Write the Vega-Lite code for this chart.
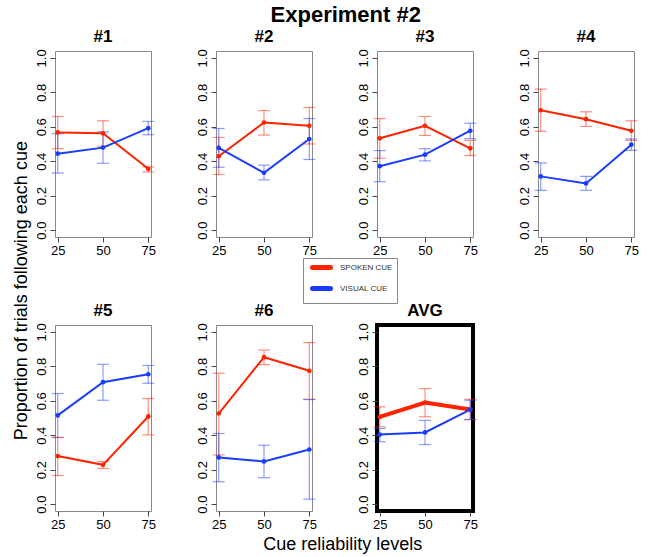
{
  "$schema": "https://vega.github.io/schema/vega-lite/v6.json",
  "padding": {"left": 12, "top": 4, "right": 5, "bottom": 5},
  "background": "white",
  "title": {"text": "Experiment #2", "fontSize": 22, "fontWeight": "bold", "anchor": "middle", "dx": 20, "offset": 0},
  "config": {
    "font": "Liberation Sans",
    "view": {"stroke": "#888", "strokeWidth": 1},
    "axis": {"domain": false, "grid": false, "ticks": true, "tickSize": 5, "tickColor": "#444", "labelFontSize": 13, "labelColor": "black", "labelFont": "Liberation Sans", "labelPadding": 2, "labelFlush": false, "labelOverlap": false, "labelBound": false},
    "axisY": {"values": [0, 0.2, 0.4, 0.6, 0.8, 1], "format": ".1f", "labelAngle": 270, "labelAlign": "center", "labelBaseline": "bottom", "labelOverlap": false},
    "axisX": {"values": [25, 50, 75], "labelAngle": 0, "labelOverlap": false},
    "title": {"fontSize": 17, "fontWeight": "bold", "font": "Liberation Sans", "offset": 3, "color": "black", "anchor": "middle"}
  },
  "datasets": {
    "d": [
      {"p": "#1", "cue": "SPOKEN CUE", "lvl": 25, "m": 0.567, "lo": 0.473, "hi": 0.66},
      {"p": "#1", "cue": "SPOKEN CUE", "lvl": 50, "m": 0.562, "lo": 0.487, "hi": 0.635},
      {"p": "#1", "cue": "SPOKEN CUE", "lvl": 75, "m": 0.356, "lo": 0.338, "hi": 0.367},
      {"p": "#1", "cue": "VISUAL CUE", "lvl": 25, "m": 0.444, "lo": 0.331, "hi": 0.56},
      {"p": "#1", "cue": "VISUAL CUE", "lvl": 50, "m": 0.479, "lo": 0.388, "hi": 0.571},
      {"p": "#1", "cue": "VISUAL CUE", "lvl": 75, "m": 0.592, "lo": 0.554, "hi": 0.631},
      {"p": "#2", "cue": "SPOKEN CUE", "lvl": 25, "m": 0.429, "lo": 0.323, "hi": 0.538},
      {"p": "#2", "cue": "SPOKEN CUE", "lvl": 50, "m": 0.625, "lo": 0.552, "hi": 0.694},
      {"p": "#2", "cue": "SPOKEN CUE", "lvl": 75, "m": 0.606, "lo": 0.5, "hi": 0.712},
      {"p": "#2", "cue": "VISUAL CUE", "lvl": 25, "m": 0.477, "lo": 0.365, "hi": 0.59},
      {"p": "#2", "cue": "VISUAL CUE", "lvl": 50, "m": 0.333, "lo": 0.292, "hi": 0.377},
      {"p": "#2", "cue": "VISUAL CUE", "lvl": 75, "m": 0.529, "lo": 0.41, "hi": 0.648},
      {"p": "#3", "cue": "SPOKEN CUE", "lvl": 25, "m": 0.533, "lo": 0.417, "hi": 0.648},
      {"p": "#3", "cue": "SPOKEN CUE", "lvl": 50, "m": 0.606, "lo": 0.55, "hi": 0.66},
      {"p": "#3", "cue": "SPOKEN CUE", "lvl": 75, "m": 0.475, "lo": 0.433, "hi": 0.521},
      {"p": "#3", "cue": "VISUAL CUE", "lvl": 25, "m": 0.371, "lo": 0.281, "hi": 0.462},
      {"p": "#3", "cue": "VISUAL CUE", "lvl": 50, "m": 0.438, "lo": 0.402, "hi": 0.473},
      {"p": "#3", "cue": "VISUAL CUE", "lvl": 75, "m": 0.577, "lo": 0.531, "hi": 0.621},
      {"p": "#4", "cue": "SPOKEN CUE", "lvl": 25, "m": 0.696, "lo": 0.573, "hi": 0.819},
      {"p": "#4", "cue": "SPOKEN CUE", "lvl": 50, "m": 0.644, "lo": 0.602, "hi": 0.687},
      {"p": "#4", "cue": "SPOKEN CUE", "lvl": 75, "m": 0.577, "lo": 0.521, "hi": 0.635},
      {"p": "#4", "cue": "VISUAL CUE", "lvl": 25, "m": 0.312, "lo": 0.231, "hi": 0.39},
      {"p": "#4", "cue": "VISUAL CUE", "lvl": 50, "m": 0.271, "lo": 0.231, "hi": 0.312},
      {"p": "#4", "cue": "VISUAL CUE", "lvl": 75, "m": 0.496, "lo": 0.463, "hi": 0.529},
      {"p": "#5", "cue": "SPOKEN CUE", "lvl": 25, "m": 0.279, "lo": 0.166, "hi": 0.387},
      {"p": "#5", "cue": "SPOKEN CUE", "lvl": 50, "m": 0.228, "lo": 0.207, "hi": 0.248},
      {"p": "#5", "cue": "SPOKEN CUE", "lvl": 75, "m": 0.509, "lo": 0.402, "hi": 0.613},
      {"p": "#5", "cue": "VISUAL CUE", "lvl": 25, "m": 0.515, "lo": 0.387, "hi": 0.642},
      {"p": "#5", "cue": "VISUAL CUE", "lvl": 50, "m": 0.708, "lo": 0.603, "hi": 0.812},
      {"p": "#5", "cue": "VISUAL CUE", "lvl": 75, "m": 0.754, "lo": 0.702, "hi": 0.805},
      {"p": "#6", "cue": "SPOKEN CUE", "lvl": 25, "m": 0.526, "lo": 0.286, "hi": 0.76},
      {"p": "#6", "cue": "SPOKEN CUE", "lvl": 50, "m": 0.853, "lo": 0.81, "hi": 0.894},
      {"p": "#6", "cue": "SPOKEN CUE", "lvl": 75, "m": 0.774, "lo": 0.609, "hi": 0.938},
      {"p": "#6", "cue": "VISUAL CUE", "lvl": 25, "m": 0.271, "lo": 0.13, "hi": 0.41},
      {"p": "#6", "cue": "VISUAL CUE", "lvl": 50, "m": 0.248, "lo": 0.153, "hi": 0.342},
      {"p": "#6", "cue": "VISUAL CUE", "lvl": 75, "m": 0.317, "lo": 0.029, "hi": 0.607},
      {"p": "AVG", "cue": "SPOKEN CUE", "lvl": 25, "m": 0.507, "lo": 0.449, "hi": 0.565},
      {"p": "AVG", "cue": "SPOKEN CUE", "lvl": 50, "m": 0.59, "lo": 0.507, "hi": 0.671},
      {"p": "AVG", "cue": "SPOKEN CUE", "lvl": 75, "m": 0.549, "lo": 0.491, "hi": 0.609},
      {"p": "AVG", "cue": "VISUAL CUE", "lvl": 25, "m": 0.404, "lo": 0.362, "hi": 0.439},
      {"p": "AVG", "cue": "VISUAL CUE", "lvl": 50, "m": 0.416, "lo": 0.346, "hi": 0.486},
      {"p": "AVG", "cue": "VISUAL CUE", "lvl": 75, "m": 0.549, "lo": 0.491, "hi": 0.603}
    ]
  },
  "vconcat": [
    {
      "title": {"text": "Proportion of trials following each cue", "orient": "left", "fontSize": 18, "fontWeight": "normal", "offset": 4, "anchor": "middle"},
      "vconcat": [
        {
          "title": {"text": "Cue reliability levels", "orient": "bottom", "fontSize": 18, "fontWeight": "normal", "offset": 3, "anchor": "middle", "dx": 6},
          "spacing": 41,
          "vconcat": [
            {
              "bounds": "flush",
              "spacing": 65,
              "hconcat": [
                {
                  "width": 96, "height": 186,
                  "title": {"text": "#1"},
                  "data": {"name": "d"},
                  "transform": [{"filter": "datum.p == '#1'"}],
                  "encoding": {
                    "x": {"field": "lvl", "type": "quantitative", "title": null, "scale": {"domain": [23.5, 76.5], "nice": false, "zero": false}, "axis": {"values": [25, 50, 75], "labelAngle": 0}},
                    "color": {"field": "cue", "type": "nominal", "scale": {"domain": ["SPOKEN CUE", "VISUAL CUE"], "range": ["#ff2200", "#1a3cff"]}, "legend": {"title": null, "orient": "none", "legendX": 248, "legendY": 207, "symbolType": "M-3,0H3", "symbolStrokeWidth": 5, "symbolSize": 36, "symbolOffset": 9, "symbolOpacity": 1, "labelFontSize": 8, "labelColor": "#333", "strokeColor": "#888", "padding": 4, "rowPadding": 0, "labelOffset": 13, "fillColor": "white", "encode": {"symbols": {"update": {"strokeCap": {"value": "round"}, "opacity": {"value": 1}}}}}}
                  },
                  "layer": [
                    {"mark": {"type": "rule", "opacity": 0.5, "strokeWidth": 1.2}, "encoding": {"y": {"field": "lo", "type": "quantitative", "title": null, "scale": {"domain": [-0.04, 1.04], "nice": false}}, "y2": {"field": "hi"}}},
                    {"mark": {"type": "tick", "orient": "horizontal", "size": 12, "thickness": 1.2, "opacity": 0.5}, "encoding": {"y": {"field": "lo", "type": "quantitative", "title": null}}},
                    {"mark": {"type": "tick", "orient": "horizontal", "size": 12, "thickness": 1.2, "opacity": 0.5}, "encoding": {"y": {"field": "hi", "type": "quantitative", "title": null}}},
                    {"mark": {"type": "line", "strokeWidth": 2}, "encoding": {"y": {"field": "m", "type": "quantitative", "title": null}}},
                    {"mark": {"type": "point", "filled": true, "size": 22, "opacity": 1}, "encoding": {"y": {"field": "m", "type": "quantitative", "title": null}}}
                  ]
                },
                {
                  "width": 96, "height": 186,
                  "title": {"text": "#2"},
                  "data": {"name": "d"},
                  "transform": [{"filter": "datum.p == '#2'"}],
                  "encoding": {
                    "x": {"field": "lvl", "type": "quantitative", "title": null, "scale": {"domain": [23.5, 76.5], "nice": false, "zero": false}, "axis": {"values": [25, 50, 75], "labelAngle": 0}},
                    "color": {"field": "cue", "type": "nominal", "scale": {"domain": ["SPOKEN CUE", "VISUAL CUE"], "range": ["#ff2200", "#1a3cff"]}}
                  },
                  "layer": [
                    {"mark": {"type": "rule", "opacity": 0.5, "strokeWidth": 1.2}, "encoding": {"y": {"field": "lo", "type": "quantitative", "title": null, "scale": {"domain": [-0.04, 1.04], "nice": false}}, "y2": {"field": "hi"}}},
                    {"mark": {"type": "tick", "orient": "horizontal", "size": 12, "thickness": 1.2, "opacity": 0.5}, "encoding": {"y": {"field": "lo", "type": "quantitative", "title": null}}},
                    {"mark": {"type": "tick", "orient": "horizontal", "size": 12, "thickness": 1.2, "opacity": 0.5}, "encoding": {"y": {"field": "hi", "type": "quantitative", "title": null}}},
                    {"mark": {"type": "line", "strokeWidth": 2}, "encoding": {"y": {"field": "m", "type": "quantitative", "title": null}}},
                    {"mark": {"type": "point", "filled": true, "size": 22, "opacity": 1}, "encoding": {"y": {"field": "m", "type": "quantitative", "title": null}}}
                  ]
                },
                {
                  "width": 96, "height": 186,
                  "title": {"text": "#3"},
                  "data": {"name": "d"},
                  "transform": [{"filter": "datum.p == '#3'"}],
                  "encoding": {
                    "x": {"field": "lvl", "type": "quantitative", "title": null, "scale": {"domain": [23.5, 76.5], "nice": false, "zero": false}, "axis": {"values": [25, 50, 75], "labelAngle": 0}},
                    "color": {"field": "cue", "type": "nominal", "scale": {"domain": ["SPOKEN CUE", "VISUAL CUE"], "range": ["#ff2200", "#1a3cff"]}}
                  },
                  "layer": [
                    {"mark": {"type": "rule", "opacity": 0.5, "strokeWidth": 1.2}, "encoding": {"y": {"field": "lo", "type": "quantitative", "title": null, "scale": {"domain": [-0.04, 1.04], "nice": false}}, "y2": {"field": "hi"}}},
                    {"mark": {"type": "tick", "orient": "horizontal", "size": 12, "thickness": 1.2, "opacity": 0.5}, "encoding": {"y": {"field": "lo", "type": "quantitative", "title": null}}},
                    {"mark": {"type": "tick", "orient": "horizontal", "size": 12, "thickness": 1.2, "opacity": 0.5}, "encoding": {"y": {"field": "hi", "type": "quantitative", "title": null}}},
                    {"mark": {"type": "line", "strokeWidth": 2}, "encoding": {"y": {"field": "m", "type": "quantitative", "title": null}}},
                    {"mark": {"type": "point", "filled": true, "size": 22, "opacity": 1}, "encoding": {"y": {"field": "m", "type": "quantitative", "title": null}}}
                  ]
                },
                {
                  "width": 96, "height": 186,
                  "title": {"text": "#4"},
                  "data": {"name": "d"},
                  "transform": [{"filter": "datum.p == '#4'"}],
                  "encoding": {
                    "x": {"field": "lvl", "type": "quantitative", "title": null, "scale": {"domain": [23.5, 76.5], "nice": false, "zero": false}, "axis": {"values": [25, 50, 75], "labelAngle": 0}},
                    "color": {"field": "cue", "type": "nominal", "scale": {"domain": ["SPOKEN CUE", "VISUAL CUE"], "range": ["#ff2200", "#1a3cff"]}}
                  },
                  "layer": [
                    {"mark": {"type": "rule", "opacity": 0.5, "strokeWidth": 1.2}, "encoding": {"y": {"field": "lo", "type": "quantitative", "title": null, "scale": {"domain": [-0.04, 1.04], "nice": false}}, "y2": {"field": "hi"}}},
                    {"mark": {"type": "tick", "orient": "horizontal", "size": 12, "thickness": 1.2, "opacity": 0.5}, "encoding": {"y": {"field": "lo", "type": "quantitative", "title": null}}},
                    {"mark": {"type": "tick", "orient": "horizontal", "size": 12, "thickness": 1.2, "opacity": 0.5}, "encoding": {"y": {"field": "hi", "type": "quantitative", "title": null}}},
                    {"mark": {"type": "line", "strokeWidth": 2}, "encoding": {"y": {"field": "m", "type": "quantitative", "title": null}}},
                    {"mark": {"type": "point", "filled": true, "size": 22, "opacity": 1}, "encoding": {"y": {"field": "m", "type": "quantitative", "title": null}}}
                  ]
                }
              ]
            },
            {
              "bounds": "flush",
              "spacing": 65,
              "hconcat": [
                {
                  "width": 96, "height": 186,
                  "title": {"text": "#5"},
                  "data": {"name": "d"},
                  "transform": [{"filter": "datum.p == '#5'"}],
                  "encoding": {
                    "x": {"field": "lvl", "type": "quantitative", "title": null, "scale": {"domain": [23.5, 76.5], "nice": false, "zero": false}, "axis": {"values": [25, 50, 75], "labelAngle": 0}},
                    "color": {"field": "cue", "type": "nominal", "scale": {"domain": ["SPOKEN CUE", "VISUAL CUE"], "range": ["#ff2200", "#1a3cff"]}}
                  },
                  "layer": [
                    {"mark": {"type": "rule", "opacity": 0.5, "strokeWidth": 1.2}, "encoding": {"y": {"field": "lo", "type": "quantitative", "title": null, "scale": {"domain": [-0.04, 1.04], "nice": false}}, "y2": {"field": "hi"}}},
                    {"mark": {"type": "tick", "orient": "horizontal", "size": 12, "thickness": 1.2, "opacity": 0.5}, "encoding": {"y": {"field": "lo", "type": "quantitative", "title": null}}},
                    {"mark": {"type": "tick", "orient": "horizontal", "size": 12, "thickness": 1.2, "opacity": 0.5}, "encoding": {"y": {"field": "hi", "type": "quantitative", "title": null}}},
                    {"mark": {"type": "line", "strokeWidth": 2}, "encoding": {"y": {"field": "m", "type": "quantitative", "title": null}}},
                    {"mark": {"type": "point", "filled": true, "size": 22, "opacity": 1}, "encoding": {"y": {"field": "m", "type": "quantitative", "title": null}}}
                  ]
                },
                {
                  "width": 96, "height": 186,
                  "title": {"text": "#6"},
                  "data": {"name": "d"},
                  "transform": [{"filter": "datum.p == '#6'"}],
                  "encoding": {
                    "x": {"field": "lvl", "type": "quantitative", "title": null, "scale": {"domain": [23.5, 76.5], "nice": false, "zero": false}, "axis": {"values": [25, 50, 75], "labelAngle": 0}},
                    "color": {"field": "cue", "type": "nominal", "scale": {"domain": ["SPOKEN CUE", "VISUAL CUE"], "range": ["#ff2200", "#1a3cff"]}}
                  },
                  "layer": [
                    {"mark": {"type": "rule", "opacity": 0.5, "strokeWidth": 1.2}, "encoding": {"y": {"field": "lo", "type": "quantitative", "title": null, "scale": {"domain": [-0.04, 1.04], "nice": false}}, "y2": {"field": "hi"}}},
                    {"mark": {"type": "tick", "orient": "horizontal", "size": 12, "thickness": 1.2, "opacity": 0.5}, "encoding": {"y": {"field": "lo", "type": "quantitative", "title": null}}},
                    {"mark": {"type": "tick", "orient": "horizontal", "size": 12, "thickness": 1.2, "opacity": 0.5}, "encoding": {"y": {"field": "hi", "type": "quantitative", "title": null}}},
                    {"mark": {"type": "line", "strokeWidth": 2}, "encoding": {"y": {"field": "m", "type": "quantitative", "title": null}}},
                    {"mark": {"type": "point", "filled": true, "size": 22, "opacity": 1}, "encoding": {"y": {"field": "m", "type": "quantitative", "title": null}}}
                  ]
                },
                {
                  "width": 96, "height": 186,
                  "title": {"text": "AVG"},
                  "view": {"stroke": "black", "strokeWidth": 4},
                  "data": {"name": "d"},
                  "transform": [{"filter": "datum.p == 'AVG'"}],
                  "encoding": {
                    "x": {"field": "lvl", "type": "quantitative", "title": null, "scale": {"domain": [23.5, 76.5], "nice": false, "zero": false}, "axis": {"values": [25, 50, 75], "labelAngle": 0}},
                    "color": {"field": "cue", "type": "nominal", "scale": {"domain": ["SPOKEN CUE", "VISUAL CUE"], "range": ["#ff2200", "#1a3cff"]}}
                  },
                  "layer": [
                    {"mark": {"type": "rule", "opacity": 0.5, "strokeWidth": 1.2}, "encoding": {"y": {"field": "lo", "type": "quantitative", "title": null, "scale": {"domain": [-0.04, 1.04], "nice": false}}, "y2": {"field": "hi"}}},
                    {"mark": {"type": "tick", "orient": "horizontal", "size": 12, "thickness": 1.2, "opacity": 0.5}, "encoding": {"y": {"field": "lo", "type": "quantitative", "title": null}}},
                    {"mark": {"type": "tick", "orient": "horizontal", "size": 12, "thickness": 1.2, "opacity": 0.5}, "encoding": {"y": {"field": "hi", "type": "quantitative", "title": null}}},
                    {"mark": {"type": "line"}, "encoding": {"y": {"field": "m", "type": "quantitative", "title": null}, "strokeWidth": {"condition": {"test": "datum.cue == 'SPOKEN CUE'", "value": 4}, "value": 2}}},
                    {"mark": {"type": "point", "filled": true, "size": 22, "opacity": 1}, "encoding": {"y": {"field": "m", "type": "quantitative", "title": null}}}
                  ]
                }
              ]
            }
          ]
        }
      ]
    }
  ]
}
